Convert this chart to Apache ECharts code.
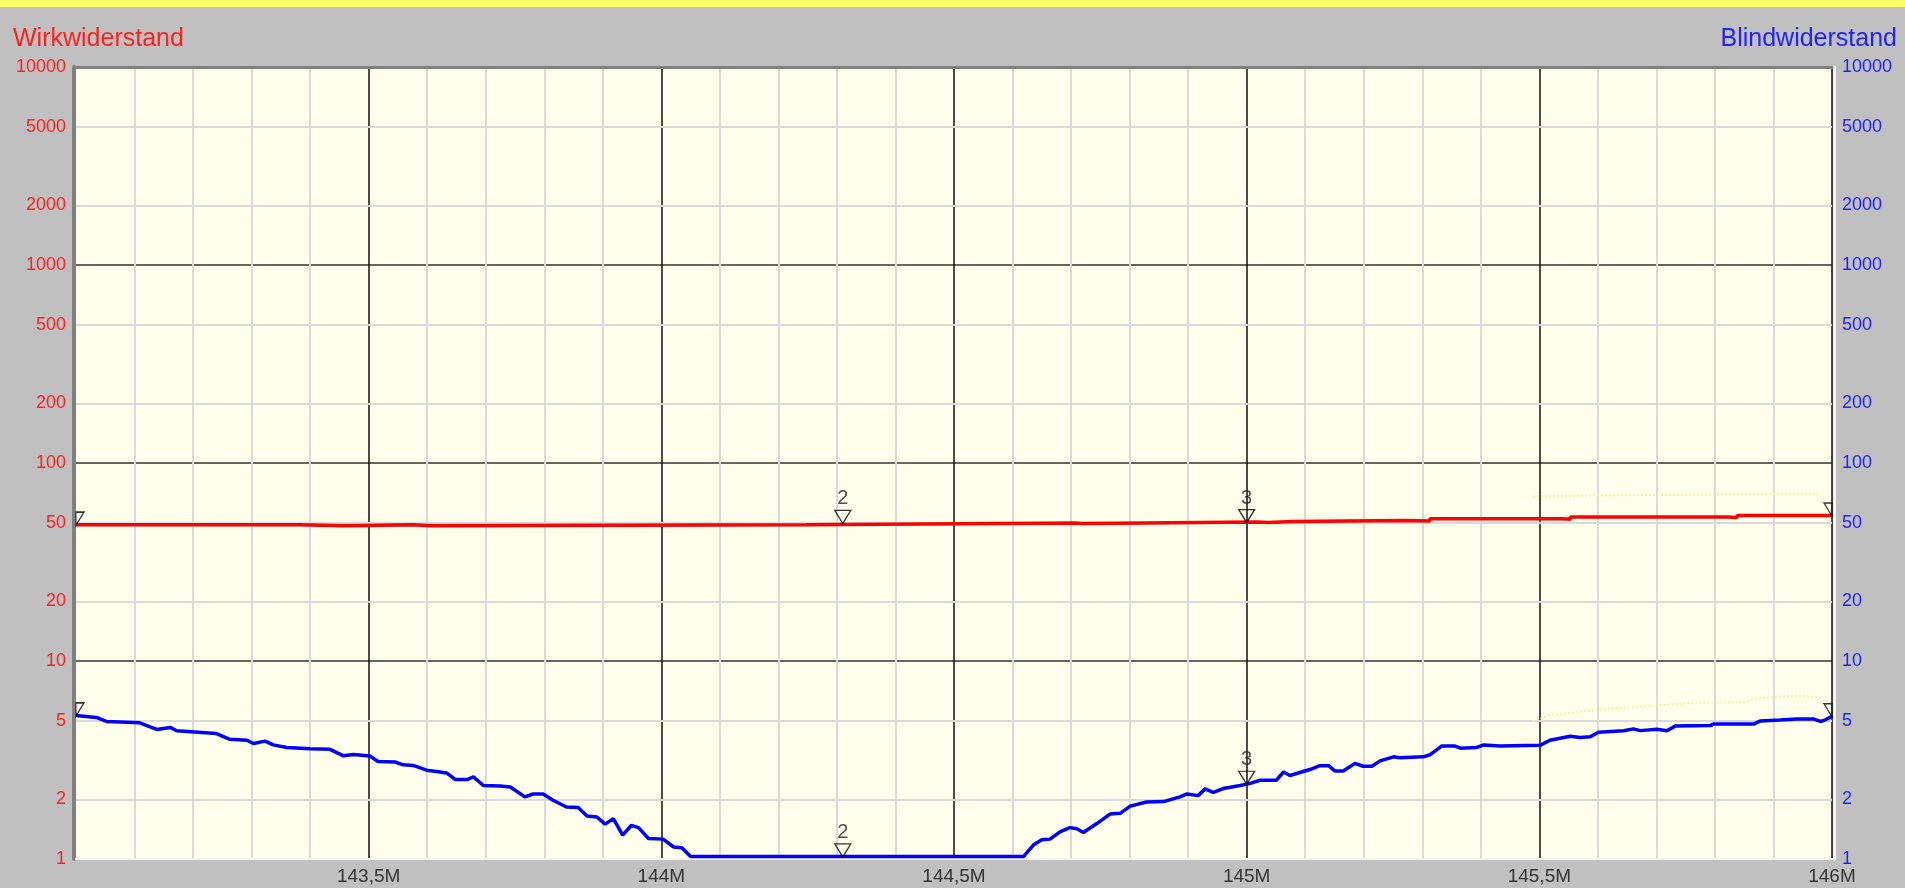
<!DOCTYPE html>
<html>
<head>
<meta charset="utf-8">
<script src="https://cdn.jsdelivr.net/npm/echarts@6/dist/echarts.min.js"></script>
<style>
html,body{margin:0;padding:0;background:#C0C0C0;overflow:hidden;}
#c{width:1905px;height:888px;}
#strip{position:absolute;left:0;top:0;width:1905px;height:7px;background:#FFFF66;}
</style>
</head>
<body>
<div id="c"></div>
<div id="strip"></div>
<script>
// ---- texts ----
const titleLeft = 'Wirkwiderstand';
const titleRight = 'Blindwiderstand';

// ---- axes ----
const freqMin = 143.0, freqMax = 146.0, freqStep = 0.5;
const ohmMin = 1, ohmMax = 10000;
const minorOhmTicks = [2, 5, 20, 50, 200, 500, 2000, 5000];

// ---- Wirkwiderstand (red, step trace) ----
const wirkFreq = [143.000, 143.381, 143.460, 143.576, 143.607, 144.247, 144.707, 144.720, 145.018, 145.037, 145.079, 145.267, 145.313, 145.539, 145.553, 145.821, 145.838, 146.000];
const wirkOhm  = [48.8, 48.2, 48.8, 48.2, 48.8, 49.8, 49.5, 50.3, 50.0, 50.7, 51.3, 51.0, 52.3, 52.0, 53.3, 53.0, 54.3, 54.3];

// ---- Blindwiderstand (blue) ----
const blindFreq = [143.000,143.035,143.052,143.109,143.138,143.161,143.172,143.240,143.263,143.292,143.303,143.323,143.337,143.360,143.400,143.434,143.457,143.474,143.502,143.516,143.545,143.559,143.576,143.599,143.622,143.633,143.648,143.668,143.679,143.696,143.724,143.742,143.767,143.781,143.798,143.815,143.838,143.858,143.873,143.890,143.904,143.918,143.934,143.949,143.961,143.978,144.003,144.021,144.035,144.050,144.619,144.636,144.650,144.664,144.681,144.698,144.710,144.721,144.744,144.767,144.784,144.801,144.829,144.858,144.886,144.898,144.917,144.929,144.943,144.960,144.989,145.006,145.023,145.051,145.063,145.074,145.108,145.125,145.140,145.151,145.165,145.185,145.199,145.214,145.228,145.251,145.262,145.302,145.313,145.333,145.356,145.365,145.393,145.405,145.433,145.501,145.518,145.553,145.570,145.587,145.601,145.644,145.661,145.672,145.701,145.718,145.732,145.792,145.797,145.866,145.877,145.911,145.940,145.968,145.980,145.988,146.000];
const blindOhm = [5.31,5.19,4.95,4.87,4.51,4.62,4.44,4.30,4.02,3.98,3.83,3.94,3.77,3.66,3.60,3.58,3.32,3.37,3.31,3.11,3.09,2.99,2.97,2.81,2.75,2.72,2.52,2.52,2.60,2.35,2.34,2.31,2.06,2.13,2.13,1.98,1.83,1.82,1.65,1.63,1.50,1.60,1.32,1.48,1.44,1.27,1.26,1.15,1.14,1.03,1.03,1.18,1.25,1.26,1.37,1.44,1.42,1.36,1.51,1.69,1.70,1.85,1.94,1.95,2.06,2.13,2.09,2.26,2.17,2.27,2.35,2.41,2.50,2.50,2.75,2.64,2.83,2.96,2.96,2.78,2.78,3.04,2.94,2.94,3.13,3.28,3.25,3.28,3.36,3.72,3.72,3.63,3.66,3.77,3.72,3.75,3.98,4.17,4.11,4.14,4.37,4.44,4.54,4.45,4.52,4.44,4.69,4.72,4.80,4.80,4.97,5.03,5.10,5.10,4.95,5.03,5.26];

// ---- faint reference (memory) traces ----
const ghostWirkFreq = [145.489, 145.600, 145.750, 145.900, 145.980];
const ghostWirkOhm  = [67.8, 68.5, 69.2, 69.9, 69.9];
const ghostBlindFreq = [145.489, 145.518, 145.604, 145.746, 145.848, 145.872, 145.916, 145.957, 145.980];
const ghostBlindOhm  = [4.98, 5.33, 5.69, 6.10, 6.21, 6.47, 6.64, 6.64, 6.52];

// ---- markers ----
const markerFreq  = [143.000, 144.310, 145.000, 146.000];
const markerNames = ['', '2', '3', ''];
const markerWirk  = [48.8, 49.8, 50.3, 54.3];
const markerBlind = [5.31, 1.03, 2.40, 5.26];

const FONT = "'Liberation Sans', Arial, sans-serif";
const RED = '#FF1F1F', BLUE = '#1F1FFF';

const zip = (a, b) => a.map((v, i) => [v, b[i]]);
const fmtOhm = v => String(Math.round(v));
const fmtFreq = v => {
  if (Math.abs(v - freqMin) < 1e-6) return '';
  const r = Math.round(v * 10) / 10;
  return String(r).replace('.', ',') + 'M';
};

const SYM_FULL = 'path://M0,0L16,0L8,12Z';
const SYM_LEFT = 'path://M0,0L8,0L0,12Z';
const SYM_RIGHT = 'path://M0,0L8,0L8,12Z';
function markerData(vals) {
  return markerFreq.map((f, i) => {
    const last = i === markerFreq.length - 1;
    const first = i === 0;
    return {
      value: [f, vals[i]],
      name: markerNames[i],
      symbol: first ? SYM_LEFT : (last ? SYM_RIGHT : SYM_FULL),
      symbolSize: (first || last) ? [8, 13] : [16, 13],
      symbolOffset: first ? [4, -6] : (last ? [-4, -6] : [0, -6])
    };
  });
}
function markerSeries(vals, yIdx) {
  return {
    type: 'scatter', xAxisIndex: 0, yAxisIndex: yIdx, z: 5, clip: false, silent: true,
    data: markerData(vals),
    itemStyle: { color: 'rgba(0,0,0,0)', borderColor: '#000', borderWidth: 1.3 },
    label: { show: true, position: 'top', distance: 1, formatter: p => p.name,
             color: '#222', fontSize: 20, fontFamily: FONT }
  };
}

const logAxisBase = {
  type: 'log', logBase: 10, min: ohmMin, max: ohmMax, interval: 1,
  axisTick: { show: false },
  minorTick: { show: false }
};

const chart = echarts.init(document.getElementById('c'), null, { renderer: 'canvas' });
chart.setOption({
  animation: false,
  backgroundColor: '#C0C0C0',
  textStyle: { fontFamily: FONT },
  title: [
    { text: titleLeft, left: 13, top: 27, padding: 0,
      textStyle: { color: RED, fontSize: 25, fontWeight: 'normal', fontFamily: FONT } },
    { text: titleRight, right: 8, top: 27, padding: 0,
      textStyle: { color: BLUE, fontSize: 25, fontWeight: 'normal', fontFamily: FONT } }
  ],
  grid: { left: 76, right: 73, top: 67, bottom: 29, show: true,
          backgroundColor: '#FFFFEC', borderWidth: 0 },
  xAxis: [
    { type: 'value', min: freqMin, max: freqMax, interval: freqStep, position: 'bottom',
      axisLine: { show: true, lineStyle: { color: '#F4F4F4', width: 2 } },
      axisTick: { show: false },
      axisLabel: { formatter: fmtFreq, color: '#333', fontSize: 19, margin: 8, fontFamily: FONT,
                   showMinLabel: true, showMaxLabel: true },
      splitLine: { show: true, showMinLine: false, lineStyle: { color: '#111', width: 1.5 } },
      minorTick: { show: false, splitNumber: 5 },
      minorSplitLine: { show: true, lineStyle: { color: '#D9D9D9', width: 2 } } },
    { type: 'value', min: freqMin, max: freqMax, position: 'top',
      axisLine: { show: true, lineStyle: { color: '#808080', width: 3 } },
      axisTick: { show: false }, axisLabel: { show: false }, splitLine: { show: false } }
  ],
  yAxis: [
    Object.assign({}, logAxisBase, {
      position: 'left', offset: 2,
      axisLine: { show: true, lineStyle: { color: '#808080', width: 4 } },
      axisLabel: { formatter: fmtOhm, color: RED, fontSize: 18, margin: 8, fontFamily: FONT },
      splitLine: { show: true, showMinLine: false, lineStyle: { color: '#333', width: 1.5 } }
    }),
    Object.assign({}, logAxisBase, {
      position: 'right', offset: 2,
      axisLine: { show: true, lineStyle: { color: '#F4F4F4', width: 3 } },
      axisLabel: { formatter: fmtOhm, color: BLUE, fontSize: 18, margin: 8, fontFamily: FONT },
      splitLine: { show: false }
    })
  ],
  series: [
    { name: 'ghostWirk', type: 'line', xAxisIndex: 0, yAxisIndex: 0, z: 1, silent: true,
      data: zip(ghostWirkFreq, ghostWirkOhm), symbol: 'none',
      lineStyle: { color: '#F3EDA6', width: 2, type: 'dotted' },
      markLine: { silent: true, z: 0, symbol: ['none', 'none'], animation: false,
        data: minorOhmTicks.map(v => ({ yAxis: v })),
        lineStyle: { color: '#D9D9D9', width: 2, type: 'solid' },
        label: { show: true, position: 'start', distance: 10, formatter: p => fmtOhm(p.value),
                 color: RED, fontSize: 18, fontFamily: FONT },
        emphasis: { disabled: true } } },
    { name: 'ghostBlind', type: 'line', xAxisIndex: 0, yAxisIndex: 1, z: 1, silent: true,
      data: zip(ghostBlindFreq, ghostBlindOhm), symbol: 'none',
      lineStyle: { color: '#F3EDA6', width: 2, type: 'dotted' },
      markLine: { silent: true, z: 0, symbol: ['none', 'none'], animation: false,
        data: minorOhmTicks.map(v => ({ yAxis: v })),
        lineStyle: { color: 'rgba(0,0,0,0)', width: 0, type: 'solid' },
        label: { show: true, position: 'end', distance: 10, formatter: p => fmtOhm(p.value),
                 color: BLUE, fontSize: 18, fontFamily: FONT },
        emphasis: { disabled: true } } },
    { name: titleLeft, type: 'line', xAxisIndex: 0, yAxisIndex: 0, z: 3, step: 'end',
      data: zip(wirkFreq, wirkOhm), symbol: 'none',
      lineStyle: { color: '#FF0000', width: 3.5 } },
    { name: titleRight, type: 'line', xAxisIndex: 0, yAxisIndex: 1, z: 3,
      data: zip(blindFreq, blindOhm), symbol: 'none',
      lineStyle: { color: '#0000FF', width: 3.5 } },
    markerSeries(markerWirk, 0),
    markerSeries(markerBlind, 1)
  ]
});
</script>
</body>
</html>
